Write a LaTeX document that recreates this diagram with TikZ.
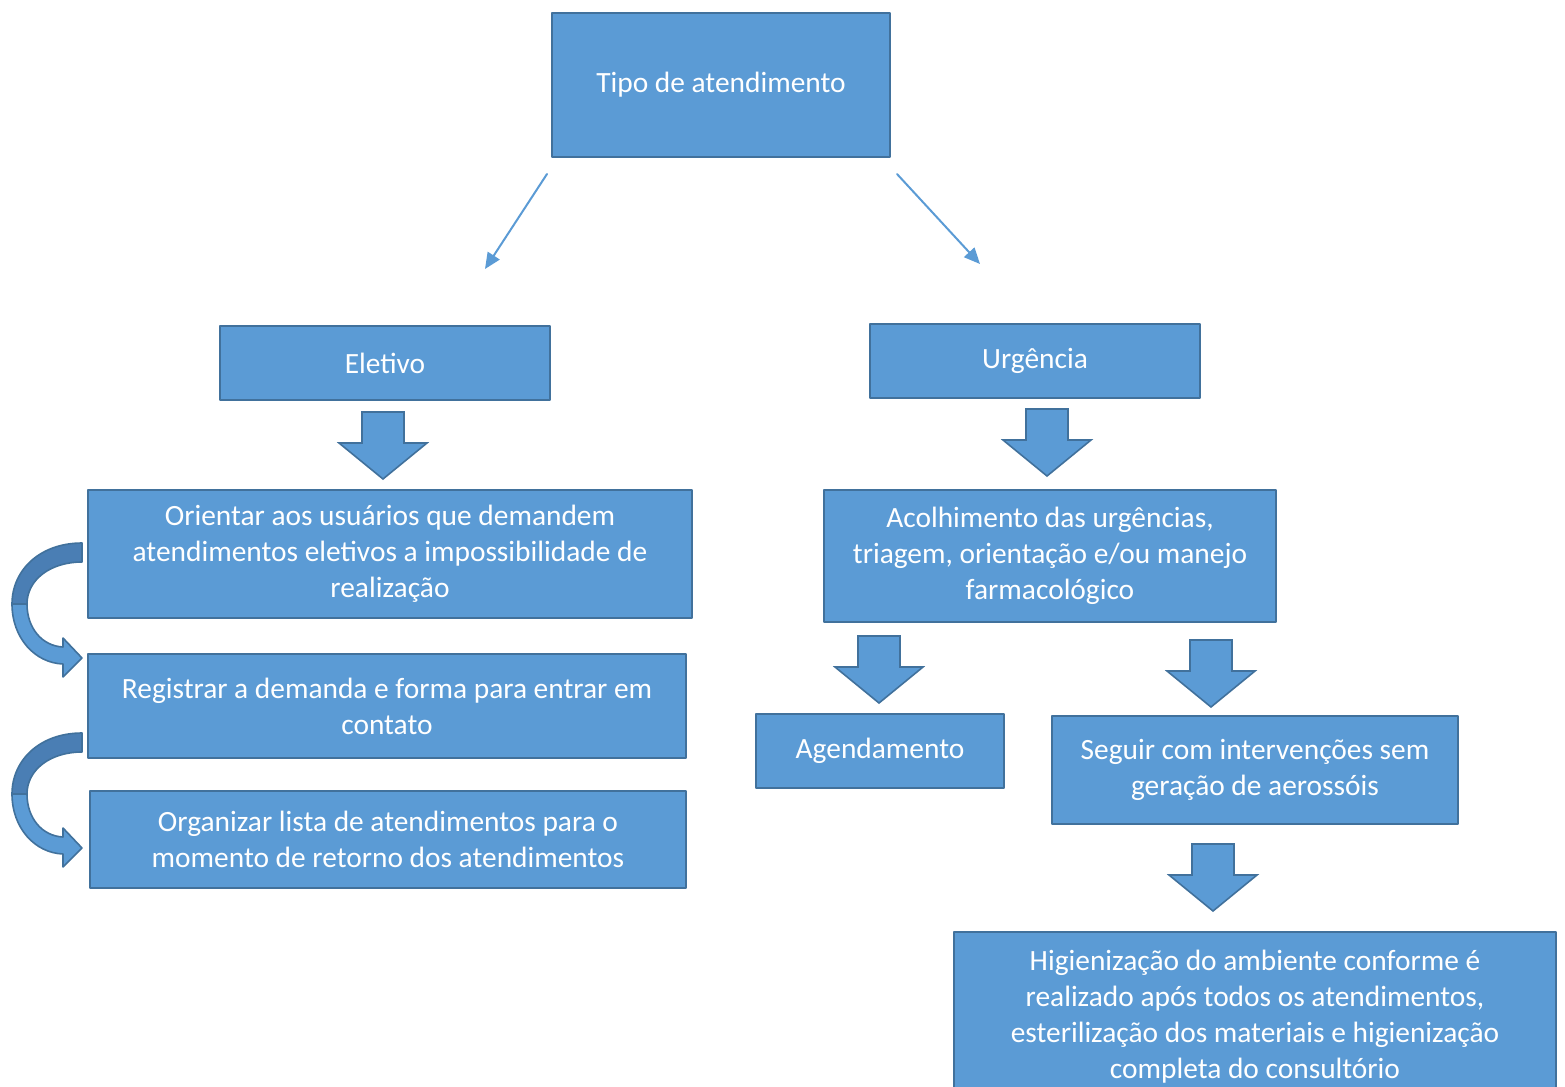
\documentclass[tikz,border=0pt]{standalone}
\usepackage{fontspec}
\setmainfont{Carlito}
\usetikzlibrary{arrows.meta}
\definecolor{boxblue}{HTML}{5B9BD5}
\definecolor{boxline}{HTML}{41719C}
\definecolor{curvedark}{HTML}{4A7EB4}

\begin{document}
\begin{tikzpicture}[x=0.5pt,y=-0.5pt,line cap=round,line join=round,>={Triangle[length=8pt,width=7pt]},
  box/.style={draw=boxline,fill=boxblue,line width=1pt,text=white,align=center,inner sep=0pt,font=\fontsize{14.7}{18}\selectfont},
  blockarrow/.style={draw=boxline,fill=boxblue,line width=0.8pt,line cap=butt,line join=miter},
  thinarrow/.style={->,draw=boxblue,line width=1pt}]
\useasboundingbox (0,0) rectangle (1565,1087);
% boxes
\node[box,minimum width=169pt,minimum height=72pt] (tipo) at (721,85) {Tipo de atendimento};
\node[box,minimum width=165pt,minimum height=37pt] (eletivo) at (385,363) {Eletivo};
\node[box,minimum width=165pt,minimum height=37pt] (urgencia) at (1035,361) {Urgência};
\node[box,minimum width=302pt,minimum height=64pt] (orientar) at (390,554) {Orientar aos usuários que demandem\\atendimentos eletivos a impossibilidade de\\realização};
\node[box,minimum width=299pt,minimum height=52pt] (registrar) at (387,706) {Registrar a demanda e forma para entrar em\\contato};
\node[box,minimum width=298pt,minimum height=48.5pt] (organizar) at (388,839.5) {Organizar lista de atendimentos para o\\momento de retorno dos atendimentos};
\node[box,minimum width=226pt,minimum height=66pt] (acolhimento) at (1050,556) {Acolhimento das urgências,\\triagem, orientação e/ou manejo\\farmacológico};
\node[box,minimum width=124pt,minimum height=37pt] (agendamento) at (880,751) {Agendamento};
\node[box,minimum width=203pt,minimum height=54pt] (seguir) at (1255,770) {Seguir com intervenções sem\\geração de aerossóis};
\node[box,minimum width=301pt,minimum height=85pt] (higienizacao) at (1255,1017) {Higienização do ambiente conforme é\\realizado após todos os atendimentos,\\esterilização dos materiais e higienização\\completa do consultório};
% thin arrows from the top box
\coordinate (eletivoTip) at (485,269);
\coordinate (urgenciaTip) at (980,264);
\draw[thinarrow] ([shift={(-4,16)}]tipo.south west) -- (eletivoTip);
\draw[thinarrow] ([shift={(6,16)}]tipo.south east) -- (urgenciaTip);
% block arrows
\foreach \tx/\ty in {383/479,1047/476,879/703,1211/707,1213/911}
  \draw[blockarrow,shift={(\tx,\ty)}] (-21,-67) -- (21,-67) -- (21,-36) -- (44,-36) -- (0,0) -- (-44,-36) -- (-21,-36) -- cycle;
% curved arrows on the left
\foreach \dy in {0,190} {
  \begin{scope}[shift={(0,\dy)}]
    \draw[fill=curvedark,draw=boxline,line width=0.8pt] (82,543) .. controls (40,543) and (12,570) .. (12,604) -- (27,604) .. controls (27,580) and (50,562) .. (82,562) -- cycle;
    \draw[fill=boxblue,draw=boxline,line width=0.8pt] (12,604) .. controls (12,638) and (35,663) .. (63,664) -- (63,677) -- (82,658) -- (63,638) -- (63,647) .. controls (42,646) and (27,628) .. (27,604) -- cycle;
  \end{scope}
}
\end{tikzpicture}
\end{document}
